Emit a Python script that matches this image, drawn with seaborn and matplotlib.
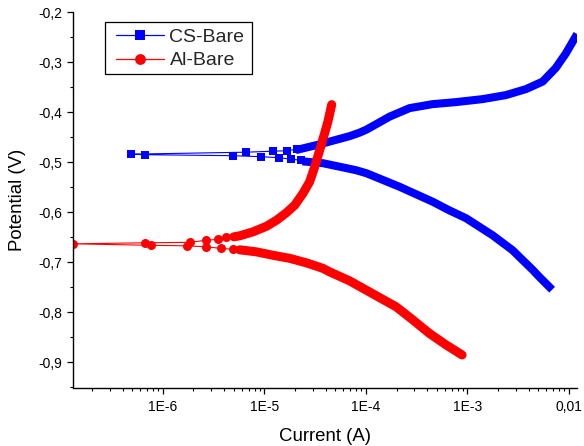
import numpy as np
import pandas as pd
import matplotlib
matplotlib.use('Agg')
import matplotlib.pyplot as plt
import seaborn as sns
from matplotlib.lines import Line2D
from matplotlib.patches import Rectangle
from matplotlib.ticker import LogLocator, MultipleLocator, NullFormatter

# ---------------- data (current in A, potential in V) ----------------
series_names = ["CS-Bare", "Al-Bare"]

# CS-Bare: cathodic branch (dense), region around Ecorr (sparse), anodic branch (dense)
cs_cath_I = [6.4e-3, 5.1e-3, 4.39e-3, 3.24e-3, 2.79e-3, 1.77e-3, 9.7e-4, 6.6e-4, 4.55e-4,
             2.14e-4, 1.01e-4, 8.0e-5, 5.5e-5, 3.77e-5, 2.59e-5]
cs_cath_E = [-0.749, -0.729, -0.715, -0.689, -0.676, -0.646, -0.612, -0.596, -0.579,
             -0.549, -0.522, -0.516, -0.509, -0.502, -0.499]
cs_mid_I = [2.28e-5, 1.82e-5, 1.39e-5, 9.3e-6, 4.9e-6, 6.65e-7, 4.8e-7, 6.65e-6, 1.22e-5,
            1.68e-5, 2.09e-5]
cs_mid_E = [-0.496, -0.494, -0.491, -0.489, -0.487, -0.485, -0.484, -0.480, -0.478,
            -0.477, -0.474]
cs_anod_I = [2.22e-5, 3.24e-5, 4.73e-5, 6.9e-5, 8.65e-5, 1.01e-4, 1.71e-4, 2.69e-4, 4.55e-4,
             7.7e-4, 1.41e-3, 2.39e-3, 3.77e-3, 5.5e-3, 7.4e-3, 9.3e-3, 1.15e-2]
cs_anod_E = [-0.474, -0.466, -0.457, -0.448, -0.441, -0.435, -0.409, -0.392, -0.384,
             -0.380, -0.374, -0.366, -0.354, -0.339, -0.312, -0.283, -0.251]

# Al-Bare
al_cath_I = [8.85e-4, 6.17e-4, 4.22e-4, 2.9e-4, 1.99e-4, 1.08e-4, 6.9e-5, 4.39e-5,
             3.77e-5, 2.59e-5, 1.77e-5, 1.22e-5, 8.3e-6, 5.7e-6]
al_cath_E = [-0.885, -0.865, -0.842, -0.815, -0.789, -0.759, -0.737, -0.719,
             -0.712, -0.701, -0.692, -0.686, -0.679, -0.675]
al_mid_I = [4.9e-6, 3.7e-6, 2.65e-6, 1.71e-6, 7.7e-7, 1.30e-7, 6.65e-7, 1.84e-6,
            2.65e-6, 3.5e-6, 4.2e-6]
al_mid_E = [-0.674, -0.672, -0.669, -0.667, -0.666, -0.663, -0.661, -0.660,
            -0.656, -0.654, -0.650]
al_anod_I = [5.0e-6, 5.71e-6, 7.73e-6, 1.047e-5, 1.313e-5, 1.644e-5, 1.985e-5, 2.40e-5,
             2.79e-5, 3.13e-5, 3.50e-5, 3.92e-5, 4.22e-5, 4.6e-5]
al_anod_E = [-0.649, -0.647, -0.639, -0.628, -0.616, -0.601, -0.586, -0.562,
             -0.539, -0.509, -0.476, -0.442, -0.419, -0.385]

x_ticks = [1e-6, 1e-5, 1e-4, 1e-3, 1e-2]
x_tick_labels = ["1E-6", "1E-5", "1E-4", "1E-3", "0,01"]
y_ticks = [-0.9, -0.8, -0.7, -0.6, -0.5, -0.4, -0.3, -0.2]
y_tick_labels = ["-0,9", "-0,8", "-0,7", "-0,6", "-0,5", "-0,4", "-0,3", "-0,2"]

# ---------------- style ----------------
sns.set_theme(style="ticks")
plt.rcParams['font.family'] = ['Liberation Sans', 'DejaVu Sans']

W, H = 584, 446
fig = plt.figure(figsize=(W / 100, H / 100), dpi=100)
ax_l, ax_r, ax_t, ax_b = 73, 577, 12, 387.5
ax = fig.add_axes([ax_l / W, 1 - ax_b / H, (ax_r - ax_l) / W, (ax_b - ax_t) / H])

BLUE = "#0000ff"
RED = "#ff0000"

def full_df(cI, cE, mI, mE, aI, aE):
    return pd.DataFrame({"I": list(cI) + list(mI) + list(aI),
                         "E": list(cE) + list(mE) + list(aE)})

def mid_idx(cI, mI):
    return list(range(len(cI), len(cI) + len(mI)))

cs_df = full_df(cs_cath_I, cs_cath_E, cs_mid_I, cs_mid_E, cs_anod_I, cs_anod_E)
al_df = full_df(al_cath_I, al_cath_E, al_mid_I, al_mid_E, al_anod_I, al_anod_E)

# CS-Bare
for bI, bE in [(cs_cath_I, cs_cath_E), (cs_anod_I, cs_anod_E)]:
    sns.lineplot(x=bI, y=bE, sort=False, estimator=None, color=BLUE, linewidth=5.8,
                 solid_capstyle="projecting", solid_joinstyle="round", ax=ax)
sns.lineplot(data=cs_df, x="I", y="E", sort=False, estimator=None, color=BLUE,
             linewidth=0.8, marker="s", markersize=5.8, markeredgewidth=0,
             markevery=mid_idx(cs_cath_I, cs_mid_I), ax=ax)

# Al-Bare
for bI, bE in [(al_cath_I, al_cath_E), (al_anod_I, al_anod_E)]:
    sns.lineplot(x=bI, y=bE, sort=False, estimator=None, color=RED, linewidth=6.5,
                 solid_capstyle="round", solid_joinstyle="round", ax=ax)
sns.lineplot(data=al_df, x="I", y="E", sort=False, estimator=None, color=RED,
             linewidth=0.8, marker="o", markersize=6.5, markeredgewidth=0,
             markevery=mid_idx(al_cath_I, al_mid_I), ax=ax)

ax.set_xscale("log")
ax.set_xlim(1.30e-7, 1.2e-2)
ax.set_ylim(-0.95, -0.2)

ax.set_xticks(x_ticks)
ax.set_xticklabels(x_tick_labels)
ax.xaxis.set_minor_locator(LogLocator(base=10, subs=np.arange(2, 10)))
ax.xaxis.set_minor_formatter(NullFormatter())
ax.set_yticks(y_ticks)
ax.set_yticklabels(y_tick_labels)
ax.yaxis.set_minor_locator(MultipleLocator(0.05))

for s in ["top", "right"]:
    ax.spines[s].set_visible(False)
for s in ["left", "bottom"]:
    ax.spines[s].set_linewidth(1.0)
    ax.spines[s].set_color("black")

ax.tick_params(which="major", direction="out", length=4.2, width=0.9, colors="black",
               labelsize=10)
ax.tick_params(which="minor", direction="out", length=2.4, width=0.8, colors="black")
ax.tick_params(axis="x", which="major", pad=5)
ax.tick_params(axis="y", which="major", pad=3.5)

ax.set_xlabel("Current (A)", fontsize=13.4, color="black", labelpad=10)
ax.set_ylabel("Potential (V)", fontsize=13.4, color="black", labelpad=9)

# legend: frame drawn as a rectangle, entries placed inside it
fig.patches.append(Rectangle((105 / W, 1 - 74 / H), (252 - 105) / W, (74 - 22) / H,
                             transform=fig.transFigure, fill=True, facecolor="white",
                             edgecolor="black", linewidth=0.9, zorder=5))
handles = [Line2D([0], [0], color=BLUE, lw=0.9, marker="s", markersize=7.2, markeredgewidth=0),
           Line2D([0], [0], color=RED, lw=0.9, marker="o", markersize=7.8, markeredgewidth=0)]
leg = fig.legend(handles, series_names, loc="upper left",
                 bbox_to_anchor=(116 / W, 1 - 28 / H), bbox_transform=fig.transFigure,
                 borderaxespad=0, borderpad=0, fontsize=14, frameon=False,
                 handlelength=2.45, handletextpad=0.3, labelspacing=0.32)
leg.set_zorder(6)

fig.savefig("out.png", dpi=100)
